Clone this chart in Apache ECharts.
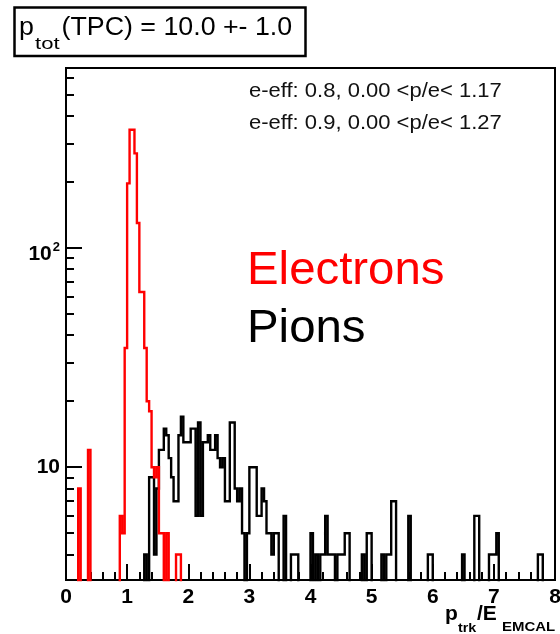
<!DOCTYPE html>
<html>
<head>
<meta charset="utf-8">
<script src="https://cdn.jsdelivr.net/npm/echarts@6/dist/echarts.min.js"></script>
<style>
  html, body { margin: 0; padding: 0; background: #ffffff; }
  #chart { width: 560px; height: 634px; }
</style>
</head>
<body>
<div id="chart"></div>
<script>
// ---------------- data ----------------
// Histogram: 200 bins of width 0.04 covering p/E = 0 .. 8
const binStart = 0;
const binWidth = 0.04;

// Electrons (red) – counts per bin, 25 bins (= one unit of p/E) per row
const electronCounts = [
  0, 0, 0, 0, 0,   8, 0, 0, 0, 12,   0, 0, 0, 0, 0,   0, 0, 0, 0, 0,   0, 0, 6, 5, 35,
  197, 346, 346, 270, 130,   63, 63, 35, 20, 18,   10, 9, 10, 5, 5,   0, 5, 0, 0, 0,   4, 4, 0, 0, 0,
  0, 0, 0, 0, 0,   0, 0, 0, 0, 0,   0, 0, 0, 0, 0,   0, 0, 0, 0, 0,   0, 0, 0, 0, 0,
  0, 0, 0, 0, 0,   0, 0, 0, 0, 0,   0, 0, 0, 0, 0,   0, 0, 0, 0, 0,   0, 0, 0, 0, 0,
  0, 0, 0, 0, 0,   0, 0, 0, 0, 0,   0, 0, 0, 0, 0,   0, 0, 0, 0, 0,   0, 0, 0, 0, 0,
  0, 0, 0, 0, 0,   0, 0, 0, 0, 0,   0, 0, 0, 0, 0,   0, 0, 0, 0, 0,   0, 0, 0, 0, 0,
  0, 0, 0, 0, 0,   0, 0, 0, 0, 0,   0, 0, 0, 0, 0,   0, 0, 0, 0, 0,   0, 0, 0, 0, 0,
  0, 0, 0, 0, 0,   0, 0, 0, 0, 0,   0, 0, 0, 0, 0,   0, 0, 0, 0, 0,   0, 0, 0, 0, 0
];

// Pions (black) – counts per bin
const pionCounts = [
  0, 0, 0, 0, 0,   0, 0, 0, 0, 0,   0, 0, 0, 0, 0,   0, 0, 0, 0, 0,   0, 0, 0, 0, 0,
  0, 0, 0, 0, 0,   0, 0, 4, 0, 9,   9, 4, 8, 12, 12,   15, 14, 11, 9, 7,   7, 14, 17, 13, 13,
  13, 15, 15, 6, 16,   6, 13, 13, 14, 12,   12, 14, 11, 10, 11,   7, 7, 16, 16, 8,   7, 8, 5, 0, 5,
  10, 10, 10, 6, 6,   8, 7, 5, 5, 4,   5, 5, 0, 0, 6,   0, 0, 4, 4, 4,   0, 0, 0, 0, 0,
  5, 0, 4, 0, 4,   4, 6, 4, 4, 4,   0, 4, 4, 4, 5,   5, 0, 0, 0, 0,   0, 4, 0, 5, 5,
  0, 0, 0, 0, 4,   0, 4, 4, 7, 7,   0, 0, 0, 0, 0,   6, 0, 0, 0, 0,   0, 0, 0, 4, 4,
  0, 0, 0, 0, 0,   0, 0, 0, 0, 0,   0, 0, 4, 0, 0,   0, 0, 6, 6, 0,   0, 0, 0, 4, 4,
  4, 5, 0, 0, 0,   0, 0, 0, 0, 0,   0, 0, 0, 0, 0,   0, 0, 0, 4, 4,   0, 0, 0, 0, 0
];

// axis values
const xMin = 0, xMax = 8;
const yMin = 3.06, yMax = 662;
const yMajorTicks = [10, 100];
const yMinorTicks = [4, 5, 6, 7, 8, 9, 20, 30, 40, 50, 60, 70, 80, 90, 200, 300, 400, 500, 600];

// texts
const titleMain = 'p';
const titleSub = 'tot';
const titleRest = '(TPC) = 10.0 +- 1.0';
const statLines = ['e-eff: 0.8, 0.00 <p/e< 1.17', 'e-eff: 0.9, 0.00 <p/e< 1.27'];
const legendElectrons = 'Electrons';
const legendPions = 'Pions';

// ---------------- build ----------------
const FONT = '"Liberation Sans", Arial, Helvetica, sans-serif';
// empty bins sit below the axis minimum on the log scale (as ROOT draws them)
const EMPTY_LEVEL = 1;

function stepPoints(counts) {
  const pts = counts.map((c, i) => [binStart + i * binWidth, c > 0 ? c : EMPTY_LEVEL]);
  const last = counts[counts.length - 1];
  pts.push([binStart + counts.length * binWidth, last > 0 ? last : EMPTY_LEVEL]);
  return pts;
}

const chart = echarts.init(document.getElementById('chart'), null, { renderer: 'canvas' });

function text(x, y, str, size, opts) {
  opts = opts || {};
  return {
    type: 'text',
    x: x, y: y,
    scaleX: opts.scaleX || 1,
    silent: true,
    z: 100,
    style: {
      x: 0, y: 0,
      text: str,
      fill: opts.color || '#000',
      fontSize: size,
      fontFamily: FONT,
      fontWeight: opts.bold ? 'bold' : 'normal',
      textAlign: 'left',
      textVerticalAlign: 'middle',
      verticalAlign: 'middle'
    }
  };
}

const option = {
  animation: false,
  backgroundColor: '#ffffff',
  textStyle: { fontFamily: FONT },
  grid: {
    left: 66, top: 68, width: 489, height: 512,
    show: true, borderColor: '#000', borderWidth: 2, backgroundColor: 'transparent',
    containLabel: false, outerBoundsMode: 'none'
  },
  xAxis: {
    type: 'value', min: xMin, max: xMax, interval: 1,
    axisLine: { show: true, onZero: false, lineStyle: { color: '#000', width: 2 } },
    axisTick: { show: true, inside: true, length: 16, lineStyle: { color: '#000', width: 2 } },
    minorTick: { show: true, splitNumber: 5, length: 8, lineStyle: { color: '#000', width: 2 } },
    axisLabel: { color: '#000', fontSize: 21, fontWeight: 'bold', fontFamily: FONT, margin: 7,
                 showMinLabel: true, showMaxLabel: true },
    splitLine: { show: false }, minorSplitLine: { show: false }
  },
  yAxis: [
    {
      type: 'log', logBase: 10, min: yMin, max: yMax, position: 'left',
      axisLine: { show: true, onZero: false, lineStyle: { color: '#000', width: 2 } },
      axisTick: { show: true, inside: true, length: 16, customValues: yMajorTicks,
                  lineStyle: { color: '#000', width: 2 } },
      axisLabel: {
        customValues: yMajorTicks, margin: 6, color: '#000',
        formatter: function (v) {
          const e = Math.round(Math.log10(v));
          return e === 1 ? '{b|10}' : '{bb|10}{s|' + e + '}';
        },
        rich: {
          b: { fontSize: 21, fontWeight: 'bold', fontFamily: FONT, color: '#000' },
          bb: { fontSize: 21, fontWeight: 'bold', fontFamily: FONT, color: '#000', padding: [12, 0, 0, 0] },
          s: { fontSize: 13, fontWeight: 'bold', fontFamily: FONT, color: '#000',
               verticalAlign: 'top', padding: [9, 0, 0, 1] }
        }
      },
      splitLine: { show: false }
    },
    {
      type: 'log', logBase: 10, min: yMin, max: yMax, position: 'left', offset: 0,
      axisLine: { show: false },
      axisTick: { show: true, inside: true, length: 8, customValues: yMinorTicks,
                  lineStyle: { color: '#000', width: 2 } },
      axisLabel: { show: false },
      splitLine: { show: false }
    }
  ],
  series: [
    {
      name: 'Pions', type: 'line', yAxisIndex: 0, step: 'end',
      data: stepPoints(pionCounts),
      symbol: 'none', showSymbol: false, clip: true, silent: true, z: 2,
      lineStyle: { color: '#000000', width: 2.4, join: 'miter', cap: 'butt' }
    },
    {
      name: 'Electrons', type: 'line', yAxisIndex: 0, step: 'end',
      data: stepPoints(electronCounts),
      symbol: 'none', showSymbol: false, clip: true, silent: true, z: 3,
      lineStyle: { color: '#ff0000', width: 2.4, join: 'miter', cap: 'butt' }
    }
  ],
  graphic: [
    {
      type: 'rect', silent: true, z: 90,
      shape: { x: 14.5, y: 7.5, width: 291, height: 48.5 },
      style: { fill: '#fff', stroke: '#000', lineWidth: 2.5 }
    },
    text(19, 27.5, titleMain, 26, { scaleX: 1.03 }),
    text(35, 44.5, titleSub, 17, { scaleX: 1.3 }),
    text(61.5, 27.5, titleRest, 26, { scaleX: 1.03 }),
    text(249, 91.5, statLines[0], 20, { scaleX: 1.1, color: '#111' }),
    text(249, 123.5, statLines[1], 20, { scaleX: 1.1, color: '#111' }),
    text(247, 271, legendElectrons, 46, { color: '#ff0000', scaleX: 1.03 }),
    text(247, 329, legendPions, 46, { scaleX: 1.03 }),
    // x-axis title  p_trk / E_EMCAL
    text(445, 614.5, 'p', 21, { bold: true }),
    text(458, 628.5, 'trk', 13, { bold: true, scaleX: 1.1 }),
    text(477, 614.5, '/E', 21, { bold: true }),
    text(502, 627.5, 'EMCAL', 13, { bold: true, scaleX: 1.15 })
  ]
};

chart.setOption(option);
</script>
</body>
</html>
